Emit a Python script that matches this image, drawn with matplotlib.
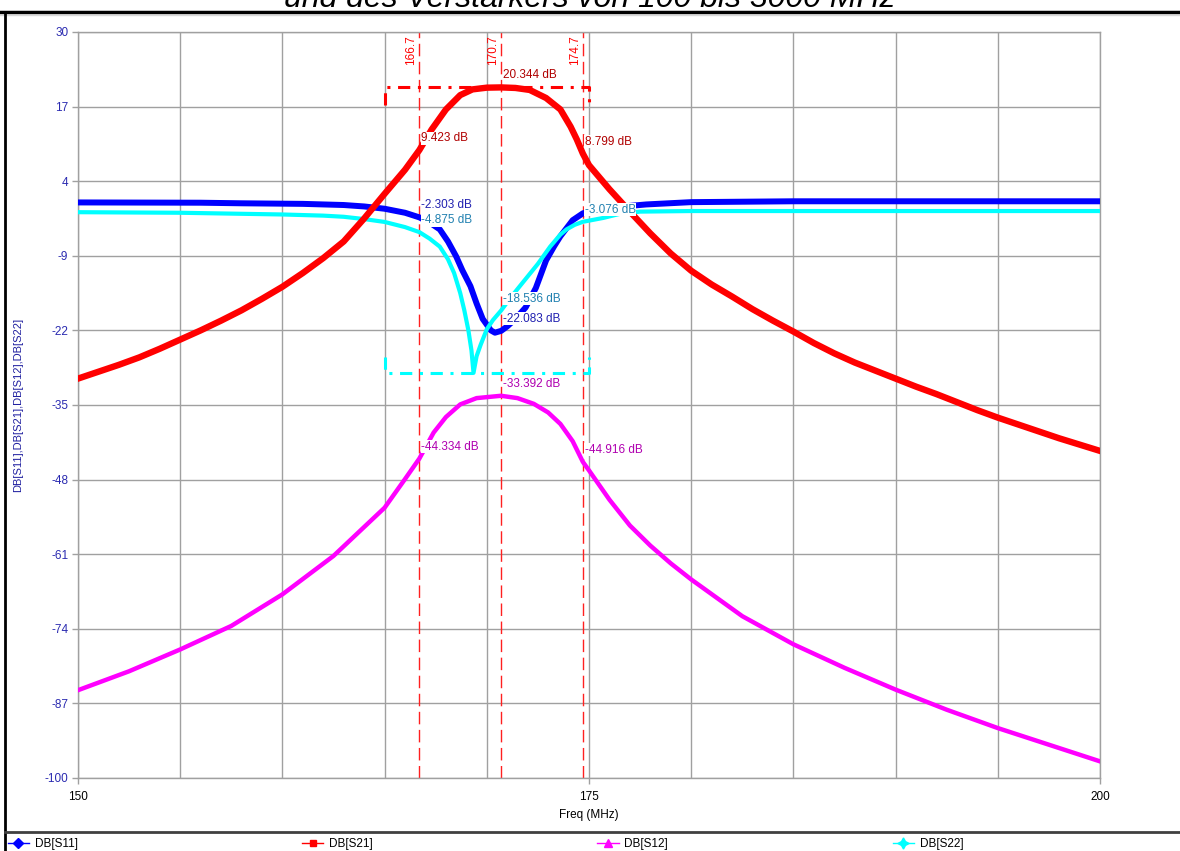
import numpy as np
import matplotlib
matplotlib.use("Agg")
import matplotlib.pyplot as plt
from matplotlib.lines import Line2D

plt.rcParams['font.family'] = ['Liberation Sans', 'DejaVu Sans']
plt.rcParams['axes.unicode_minus'] = False

# ---------------------------
# Values (Freq in MHz, level in dB)
# ---------------------------
s11_freq = [150, 156, 158, 161, 163, 164, 165, 166, 166.7, 167.2, 167.7, 168.1, 168.5, 168.8,
            169.2, 169.5, 169.8, 170.2, 170.4, 170.7, 171.0, 171.4, 171.9, 172.4, 172.9,
            173.3, 173.6, 174.2, 174.7, 175.5, 177, 177.8, 180, 185, 190, 200]
s11_db = [0.3, 0.25, 0.15, 0.05, -0.15, -0.4, -0.8, -1.5, -2.303, -3.2, -4.4, -6.5, -9.1, -11.5,
          -14.3, -17.3, -20.0, -22.0, -22.4, -22.083, -21.3, -20.0, -18.0, -14.6, -9.8,
          -7.3, -5.6, -2.8, -1.6, -0.8, -0.3, -0.05, 0.35, 0.5, 0.5, 0.5]

s21_freq = [150, 151, 152, 153, 154, 155, 156, 157, 158, 159, 160, 161, 162, 163, 164, 165,
            166, 166.7, 167.3, 168, 168.7, 169.3, 170, 170.7, 171.4, 172.1, 172.9, 173.6,
            174.1, 174.4, 174.7, 175, 176, 177, 178, 179, 180, 181, 182, 183, 184, 185,
            186, 187, 188, 189, 190, 191, 192, 193, 194, 195, 196, 197, 198, 199, 200]
s21_db = [-30.4, -29.2, -28.0, -26.7, -25.2, -23.6, -22.0, -20.3, -18.5, -16.5, -14.4, -12.0,
          -9.4, -6.5, -2.5, 1.8, 6.0, 9.423, 13.0, 16.5, 19.0, 20.0, 20.3, 20.344, 20.25,
          19.9, 18.5, 16.5, 13.5, 11.3, 8.799, 6.8, 2.6, -1.3, -5.1, -8.6, -11.6, -14.0,
          -16.1, -18.3, -20.3, -22.2, -24.2, -26.0, -27.6, -29.0, -30.4, -31.8, -33.1,
          -34.5, -35.9, -37.2, -38.4, -39.6, -40.8, -41.9, -43.0]

s12_freq = [150, 152.5, 155, 157.5, 160, 162.5, 165, 166, 166.7, 167.4, 168, 168.7, 169.5,
            170.7, 171.5, 172.3, 173, 173.6, 174.2, 174.7, 175, 176, 177, 178, 179, 180,
            182.5, 185, 187.5, 190, 192.5, 195, 197.5, 200]
s12_db = [-84.7, -81.4, -77.6, -73.5, -68.0, -61.3, -52.9, -47.9, -44.334, -39.8, -37.1,
          -34.9, -33.8, -33.392, -33.8, -34.8, -36.3, -38.3, -41.3, -44.916, -46.4, -51.5,
          -56.0, -59.5, -62.6, -65.4, -71.8, -76.7, -80.8, -84.6, -88.1, -91.3, -94.2, -97.1]

s22_freq = [150, 155, 160, 162, 163, 164, 165, 166, 166.7, 167.2, 167.7, 168.1, 168.4, 168.7,
            168.9, 169.1, 169.25, 169.35, 169.5, 169.7, 170.0, 170.3, 170.7, 171.1, 171.5,
            172.0, 172.5, 173.1, 173.6, 173.9, 174.3, 174.7, 175.7, 176.5, 177.5, 180, 190, 200]
s22_db = [-1.4, -1.5, -1.8, -2.0, -2.2, -2.6, -3.1, -4.0, -4.875, -6.0, -7.4, -9.6, -12.0,
          -15.5, -18.5, -22.0, -25.5, -29.4, -26.5, -24.5, -21.8, -20.2, -18.536, -16.6,
          -14.8, -12.6, -10.4, -7.4, -5.3, -4.4, -3.6, -3.076, -2.4, -1.7, -1.3, -1.2, -1.2, -1.2]

marker_freq = [166.7, 170.7, 174.7]
s11_marks = [-2.303, -22.083]
s21_marks = [9.423, 20.344, 8.799]
s12_marks = [-44.334, -33.392, -44.916]
s22_marks = [-4.875, -18.536, -3.076]

window = (165, 175)   # range of the min/max brackets

W, H = 1180, 851
fig = plt.figure(figsize=(W / 100, H / 100), dpi=100)
fig.patch.set_facecolor('white')
ax = fig.add_axes([78 / W, 1 - 778 / H, (1100 - 78) / W, (778 - 32) / H])

grid_col = '#a0a0a0'

# curves
ax.plot(s11_freq, s11_db, color='#0000ff', lw=4.3, solid_joinstyle='round', zorder=3)
ax.plot(s22_freq, s22_db, color='#00ffff', lw=3.0, zorder=4)
ax.plot(s12_freq, s12_db, color='#ff00ff', lw=3.2, zorder=3)
ax.plot(s21_freq, s21_db, color='#ff0000', lw=4.6, zorder=5)

# marker lines
for f in marker_freq:
    ax.axvline(f, color='#ff2020', lw=1.0, ls=(0, (9, 4)), zorder=2)
    ax.annotate(f'{f:.1f}', xy=(f, 30), xytext=(-2, -3), textcoords='offset pixels',
                rotation=90, ha='right', va='top', color='#ff0000', fontsize=8.5, zorder=6)

# min / max brackets
top = max(s21_db)
ax.plot([window[0], window[0], window[1], window[1]], [top - 3, top, top, top - 3],
        color='#ff0000', lw=2.2, ls=(0, (4, 2.5, 1, 2.5)), zorder=6)
bot = min(s22_db)
ax.plot([window[0], window[0], window[1], window[1]], [bot + 2.7, bot, bot, bot + 2.7],
        color='#00ffff', lw=2.2, ls=(0, (4, 2.5, 1, 2.5)), zorder=6)

# marker readouts
def readout(freqs, vals, color):
    for f, v in zip(freqs, vals):
        ax.annotate(f'{v:.3f} dB', xy=(f, v), xytext=(2, 12), textcoords='offset pixels',
                    ha='left', va='center', color=color, fontsize=8.5, zorder=7,
                    bbox=dict(facecolor='white', edgecolor='none', pad=0.3))

readout(marker_freq, s21_marks, '#b00000')
readout(marker_freq, s11_marks, '#2020b0')
readout(marker_freq, s22_marks, '#2080b0')
readout(marker_freq, s12_marks, '#b000b0')

# axes
ax.set_xlim(150, 200)
ax.set_ylim(-100, 30)
ax.set_xticks([150, 175, 200])
ax.set_xticks(np.arange(150, 201, 5), minor=True)
ax.set_yticks(np.arange(-100, 31, 13))
ax.grid(True, which='both', color=grid_col, lw=1.0, zorder=1)
ax.set_axisbelow(True)
for s in ax.spines.values():
    s.set_color(grid_col)
    s.set_linewidth(1.0)
ax.tick_params(axis='y', colors=grid_col, labelcolor='#2a2ab0', length=4, width=1,
               labelsize=8.5, pad=3)
ax.tick_params(axis='x', which='major', colors=grid_col, labelcolor='black', length=4,
               width=1, labelsize=8.5, pad=5)
ax.tick_params(axis='x', which='minor', length=0)
ax.set_xlabel('Freq (MHz)', fontsize=8.5, va='center')
ax.xaxis.set_label_coords(0.5, (778 - 815) / 746)
ax.set_ylabel('DB[S11],DB[S21],DB[S12],DB[S22]', fontsize=8, color='#2020a0', va='center')
ax.yaxis.set_label_coords((18 - 78) / 1022, 0.5)

# title, only its lower part is visible in the frame
fig.text(0.5, 1 - 7 / H, 'und des Verstärkers von 100 bis 3000 MHz', ha='center',
         va='baseline', fontsize=23, style='italic')

# frame lines
fig.add_artist(Line2D([0, 1], [1 - 12 / H] * 2, color='black', lw=2.5, transform=fig.transFigure))
fig.add_artist(Line2D([0, 1], [1 - 15 / H] * 2, color='#d8d8d8', lw=1.0, transform=fig.transFigure))
fig.add_artist(Line2D([5 / W] * 2, [0, 1 - 12 / H], color='black', lw=2.0, transform=fig.transFigure))
fig.add_artist(Line2D([5 / W, 1], [1 - 832 / H] * 2, color='#404040', lw=2.0,
                      transform=fig.transFigure))

# legend
handles = [Line2D([], [], color='#0000ff', marker='D', ms=5, lw=1),
           Line2D([], [], color='#ff0000', marker='s', ms=5, lw=1),
           Line2D([], [], color='#ff00ff', marker='^', ms=6, lw=1),
           Line2D([], [], color='#00ffff', marker=(4, 1, 0), ms=8, lw=1)]
fig.legend(handles, ['DB[S11]', 'DB[S21]', 'DB[S12]', 'DB[S22]'], loc='lower left',
           bbox_to_anchor=(-3 / W, -10 / H), ncol=4, frameon=False, fontsize=8.5,
           handlelength=1.8, handletextpad=0.5, columnspacing=19.0)

fig.savefig('out.png', dpi=100)
